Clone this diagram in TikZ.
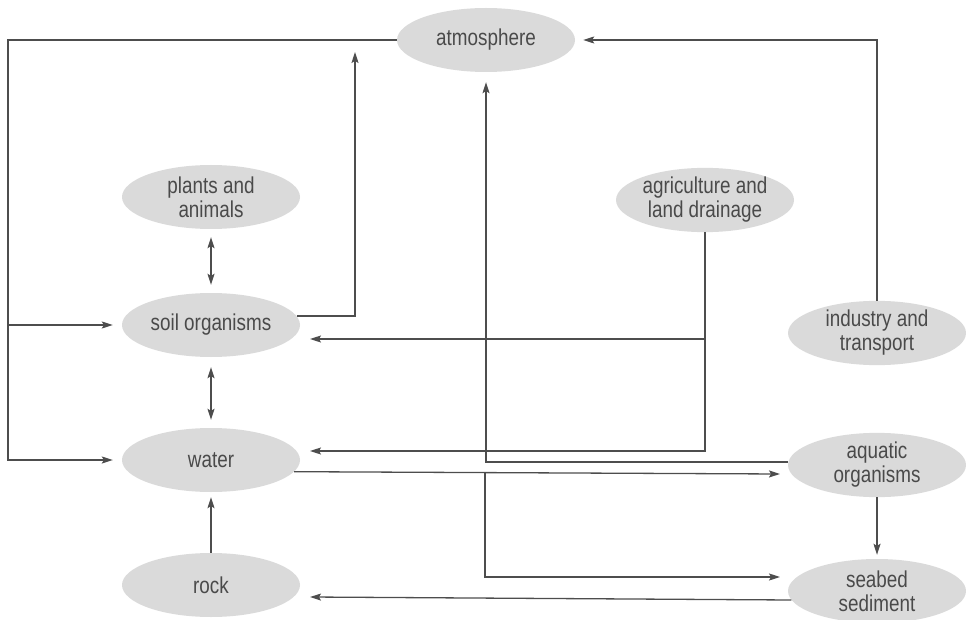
\documentclass[tikz,border=0pt]{standalone}
\usepackage{fontspec}
\setmainfont{Liberation Sans}[FakeStretch=0.82]
\usetikzlibrary{shapes.geometric,arrows.meta}
\definecolor{ellfill}{HTML}{DADADA}
\definecolor{inkgray}{HTML}{4D4D4D}
\definecolor{txtgray}{HTML}{4A4A4A}
\tikzset{
  blob/.style={ellipse, fill=ellfill, draw=none, minimum width=178pt, minimum height=64pt,
    inner sep=0pt, align=center, text=txtgray, font=\fontsize{23}{24}\selectfont},
  conn/.style={draw=inkgray, line width=1.3pt},
  arr/.style={conn, -{Stealth[length=11pt,width=7pt,inset=2pt]}},
  darr/.style={conn, {Stealth[length=11pt,width=7pt,inset=2pt]}-{Stealth[length=11pt,width=7pt,inset=2pt]}}
}
\begin{document}
\begin{tikzpicture}[x=1pt,y=-1pt]
\useasboundingbox (0,0) rectangle (966,620);
% nodes
\node[blob] (atm) at (486,40) {atmosphere};
\node[blob] (plants) at (211,197) {plants and\\animals};
\node[blob] (soil) at (211,325) {soil organisms};
\node[blob] (water) at (211,460) {water};
\node[blob] (rock) at (211,585) {rock};
\node[blob] (agri) at (705,200) {agriculture and\\land drainage};
\node[blob] (ind) at (877,333) {industry and\\transport};
\node[blob] (aqu) at (877,465) {aquatic\\organisms};
\node[blob] (sea) at (877,591) {seabed\\sediment};
% helper coordinates
\coordinate (jL) at (8,325);
\coordinate (aUp) at (355,52);
\coordinate (sIn) at (310,339);
\coordinate (wIn) at (310,451);
\coordinate (aIn) at (780,474);
\coordinate (jW) at (485,473);
\coordinate (seaIn) at (780,577);
\coordinate (rIn) at (310,597);
% connectors
\draw[arr, shorten >=9pt] (atm.west) -| (8,460) -- (water.west);
\draw[arr, shorten >=9pt] (jL) -- (soil.west);
\draw[arr] (soil.6) -| (aUp);
\draw[arr, shorten >=8pt] (ind.north) |- (atm.east);
\draw[arr, shorten >=10pt] (aqu.178) -| (atm.south);
\draw[arr] (agri.south) |- (wIn);
\draw[arr] (agri.south |- sIn) -- (sIn);
\draw[arr] (water.-8) -- (aIn);
\draw[arr] (jW) |- (seaIn);
\draw[arr] (sea.186) -- (rIn);
\draw[arr, shorten >=4pt] (aqu.south) -- (sea.north);
\draw[arr, shorten >=5pt] (rock.north) -- (water.south);
\draw[darr, shorten <=8pt, shorten >=8pt] (plants.south) -- (soil.north);
\draw[darr, shorten <=10pt, shorten >=8pt] (soil.south) -- (water.north);
\end{tikzpicture}
\end{document}
